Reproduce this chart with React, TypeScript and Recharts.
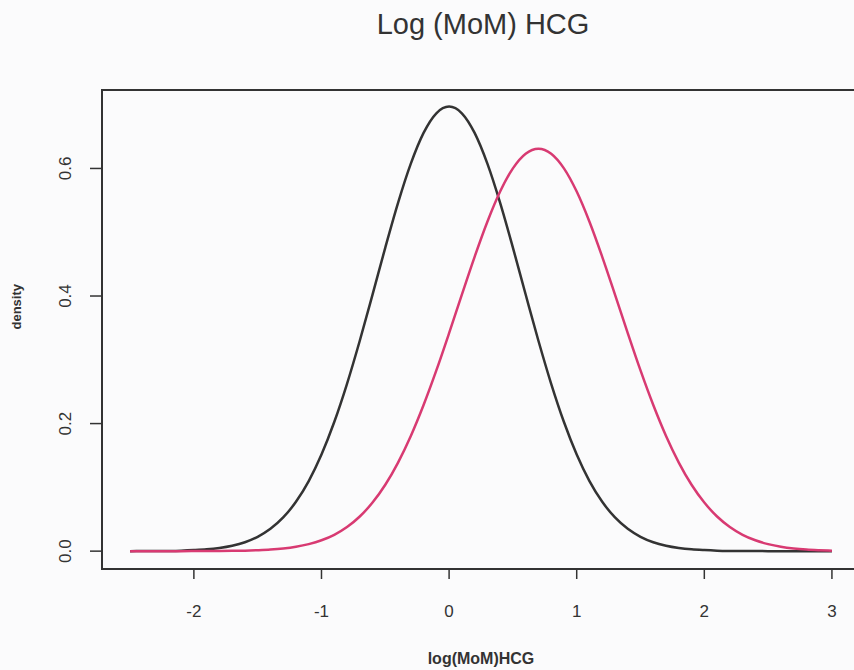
import React from "react";
import { LineChart, Line, XAxis, YAxis, ReferenceArea } from "recharts";

// x grid the densities were read at
const xValues = [
	-2.5, -2.4, -2.3, -2.2, -2.1, -2.0, -1.9, -1.8, -1.7, -1.6, -1.5, -1.4, -1.3, -1.2, -1.1, -1.0, -0.9, -0.8, -0.7,
	-0.6, -0.5, -0.4, -0.3, -0.2, -0.1, 0.0, 0.1, 0.2, 0.3, 0.4, 0.5, 0.6, 0.7, 0.8, 0.9, 1.0, 1.1, 1.2, 1.3, 1.4, 1.5,
	1.6, 1.7, 1.8, 1.9, 2.0, 2.1, 2.2, 2.3, 2.4, 2.5, 2.6, 2.7, 2.8, 2.9, 3.0,
];

// black curve (peak near 0)
const blackDensity = [
	0.0, 0.0001, 0.0002, 0.0004, 0.0008, 0.0016, 0.0028, 0.005, 0.0085, 0.014, 0.0225, 0.035, 0.0528, 0.0774, 0.1099,
	0.1515, 0.2024, 0.2624, 0.3299, 0.4023, 0.4759, 0.546, 0.6075, 0.6557, 0.6865, 0.697, 0.6865, 0.6557, 0.6075, 0.546,
	0.4759, 0.4023, 0.3299, 0.2624, 0.2024, 0.1515, 0.1099, 0.0774, 0.0528, 0.035, 0.0225, 0.014, 0.0085, 0.005, 0.0028,
	0.0016, 0.0008, 0.0004, 0.0002, 0.0001, 0.0, 0.0, 0.0, 0.0, 0.0, 0.0,
];

// pink curve (peak near 0.7)
const pinkDensity = [
	0.0, 0.0, 0.0, 0.0, 0.0, 0.0001, 0.0001, 0.0003, 0.0005, 0.0008, 0.0015, 0.0025, 0.0042, 0.0069, 0.011, 0.017,
	0.0256, 0.0378, 0.0543, 0.0762, 0.1041, 0.1389, 0.1806, 0.2291, 0.2833, 0.3418, 0.4022, 0.4615, 0.5165, 0.5638,
	0.6002, 0.6232, 0.631, 0.6232, 0.6002, 0.5638, 0.5165, 0.4615, 0.4022, 0.3418, 0.2833, 0.2291, 0.1806, 0.1389,
	0.1041, 0.0762, 0.0543, 0.0378, 0.0256, 0.017, 0.011, 0.0069, 0.0042, 0.0025, 0.0015, 0.0008,
];

const xTicks = [-2, -1, 0, 1, 2, 3];
const yTicks = [0, 0.2, 0.4, 0.6];

const data = xValues.map((x, i) => ({ x, black: blackDensity[i], pink: pinkDensity[i] }));

const FONT = "'Liberation Sans', Arial, sans-serif";
const INK = "#333333";

function XTick({ x, payload }: { x?: number; payload?: { value: number } }) {
	return (
		<text x={x} y={611} textAnchor="middle" dominantBaseline="central" fontSize={17} fill={INK} fontFamily={FONT}>
			{payload?.value}
		</text>
	);
}

function YTick({ y, payload }: { y?: number; payload?: { value: number } }) {
	const label = payload ? payload.value.toFixed(1) : "";
	return (
		<text
			x={66}
			y={y}
			transform={`rotate(-90, 66, ${y})`}
			textAnchor="middle"
			dominantBaseline="central"
			fontSize={17}
			fill={INK}
			fontFamily={FONT}
		>
			{label}
		</text>
	);
}

export default function App() {
	return (
		<div
			style={{
				position: "absolute",
				left: 0,
				top: 0,
				width: 854,
				height: 670,
				overflow: "hidden",
				background: "#fbfbfc",
				fontFamily: FONT,
			}}
		>
			<div
				style={{
					position: "absolute",
					top: 8,
					left: 0,
					width: 966,
					textAlign: "center",
					fontSize: 29,
					color: INK,
				}}
			>
				Log (MoM) HCG
			</div>
			<LineChart width={870} height={670} data={data} margin={{ top: 90, right: 10, bottom: 0, left: 0 }}>
				<XAxis
					dataKey="x"
					type="number"
					domain={[-2.72, 3.22]}
					ticks={xTicks}
					allowDataOverflow
					axisLine={false}
					tickLine={{ stroke: INK, strokeWidth: 1.5 }}
					tickSize={10}
					tick={<XTick />}
					height={101}
					label={{
						value: "log(MoM)HCG",
						position: "insideBottom",
						offset: 6,
						fontSize: 16,
						fontWeight: "bold",
						fill: INK,
						fontFamily: FONT,
					}}
				/>
				<YAxis
					type="number"
					domain={[-0.028, 0.723]}
					ticks={yTicks}
					allowDataOverflow
					axisLine={false}
					tickLine={{ stroke: INK, strokeWidth: 1.5 }}
					tickSize={12}
					tick={<YTick />}
					width={102}
					label={{
						value: "density",
						angle: -90,
						position: "insideLeft",
						offset: 16,
						fontSize: 13,
						fontWeight: "bold",
						fill: INK,
						fontFamily: FONT,
					}}
				/>
				<ReferenceArea
					x1={-2.72}
					x2={3.22}
					y1={-0.028}
					y2={0.723}
					fill="none"
					stroke={INK}
					strokeWidth={2}
					ifOverflow="visible"
				/>
				<Line
					dataKey="black"
					type="monotone"
					stroke="#333333"
					strokeWidth={2.5}
					dot={false}
					isAnimationActive={false}
				/>
				<Line
					dataKey="pink"
					type="monotone"
					stroke="#d83a72"
					strokeWidth={2.5}
					dot={false}
					isAnimationActive={false}
				/>
			</LineChart>
		</div>
	);
}
